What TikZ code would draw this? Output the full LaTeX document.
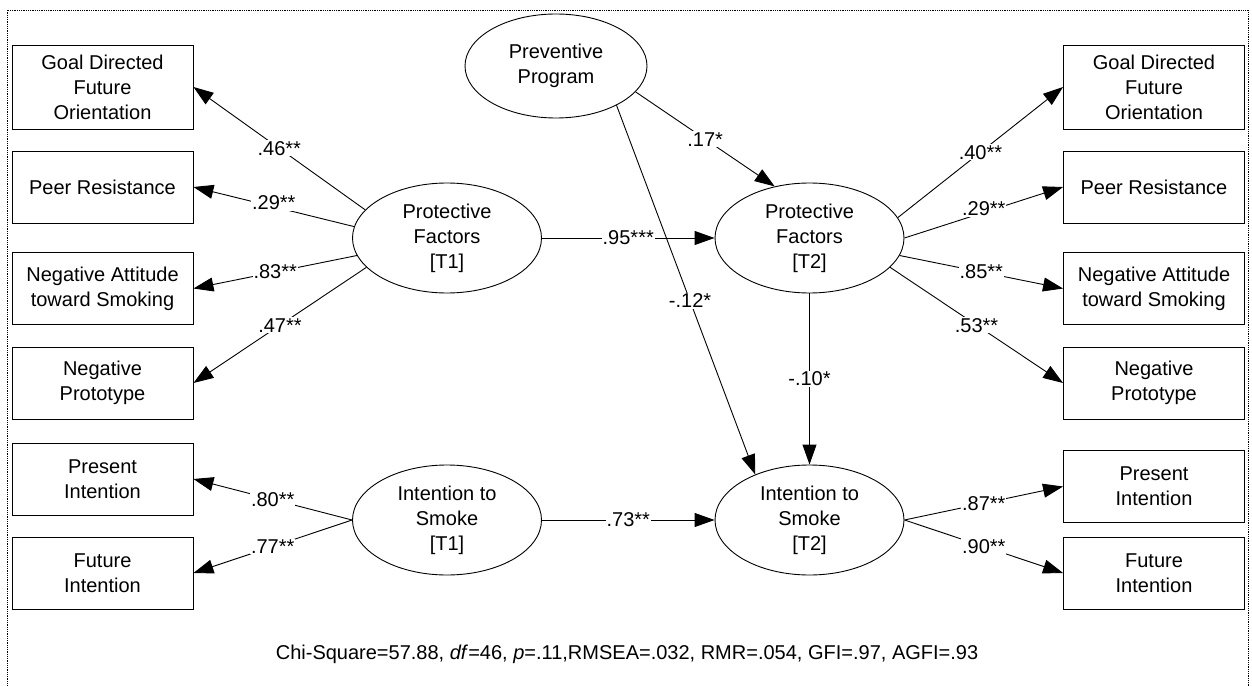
\documentclass[tikz,border=0pt]{standalone}
\usepackage{fontspec}
\setmainfont{Liberation Sans}
\usetikzlibrary{arrows.meta,shapes.geometric}
\begin{document}
\begin{tikzpicture}[x=1pt,y=-1pt,line width=0.9pt,
		font=\fontsize{20}{25}\selectfont,
		obs/.style={draw,rectangle,minimum width=181pt,minimum height=72pt,align=center,inner sep=2pt},
		lat/.style={draw,ellipse,minimum width=189pt,minimum height=110pt,align=center,inner sep=0pt},
		arr/.style={-{Triangle[length=20pt,width=14pt]}},
		coef/.style={fill=white,inner sep=1pt}]
				\useasboundingbox (0,0) rectangle (1252,687);
				% frame
				\draw[densely dotted,line width=0.8pt] (7,700) -- (7,10) -- (1248,10) -- (1248,700);
				% latent variables
				\node[lat,minimum width=182pt,minimum height=104pt] (pp) at (556,66) {Preventive\\Program};
				\node[lat] (pf1) at (447,238) {Protective\\Factors\\{[T1]}};
				\node[lat] (pf2) at (809.5,238) {Protective\\Factors\\{[T2]}};
				\node[lat] (is1) at (447,520) {Intention to\\Smoke\\{[T1]}};
				\node[lat] (is2) at (809.5,520) {Intention to\\Smoke\\{[T2]}};
				% indicators T1
				\node[obs,minimum height=84pt] (gl1) at (102.5,87) {Goal Directed\\Future\\Orientation};
				\node[obs] (pr1) at (102.5,187) {Peer Resistance};
				\node[obs] (na1) at (102.5,288.5) {Negative Attitude\\toward Smoking};
				\node[obs] (np1) at (102.5,383) {Negative\\Prototype};
				\node[obs] (pi1) at (102.5,479) {Present\\Intention};
				\node[obs] (fi1) at (102.5,573) {Future\\Intention};
				% indicators T2
				\node[obs,minimum height=84pt] (gl2) at (1154,87) {Goal Directed\\Future\\Orientation};
				\node[obs] (pr2) at (1154,187) {Peer Resistance};
				\node[obs] (na2) at (1154,288.5) {Negative Attitude\\toward Smoking};
				\node[obs] (np2) at (1154,383) {Negative\\Prototype};
				\node[obs] (pi2) at (1154,486.5) {Present\\Intention};
				\node[obs] (fi2) at (1154,573) {Future\\Intention};
				% loadings
				\draw[arr] (pf1.161) -- node[coef] {.46**} (gl1.east);
				\draw[arr] (pf1.173) -- node[coef,yshift=4pt] {.29**} (pr1.east);
				\draw[arr] (pf1.191) -- node[coef] {.83**} (na1.east);
				\draw[arr] (pf1.200) -- node[coef] {.47**} (np1.east);
				\draw[arr] (pf2.13) -- node[coef] {.40**} (gl2.west);
				\draw[arr] (pf2.0) -- node[coef,yshift=4pt] {.29**} (pr2.west);
				\draw[arr] (pf2.-11) -- node[coef] {.85**} (na2.west);
				\draw[arr] (pf2.-20) -- node[coef] {.53**} (np2.west);
				\draw[arr] (is1.west) -- node[coef] {.80**} (pi1.east);
				\draw[arr] (is1.west) -- node[coef] {.77**} (fi1.east);
				\draw[arr] (is2.east) -- node[coef] {.87**} (pi2.west);
				\draw[arr] (is2.east) -- node[coef] {.90**} (fi2.west);
				% paths
				\draw[arr] (pf1) -- node[coef] {.95***} (pf2);
				\draw[arr] (is1) -- node[coef] {.73**} (is2);
				\draw[arr] (pp.-18) -- node[coef] {.17*} (pf2.124);
				\draw[arr] (pp.-33) -- node[coef,pos=0.53] {-.12*} (is2.140);
				\draw[arr] (pf2) -- node[coef] {-.10*} (is2);
				% fit
				\node (fit) at (627,654) {Chi-Square=57.88, \textit{df}=46, \textit{p}=.11,RMSEA=.032, RMR=.054, GFI=.97, AGFI=.93};
			\end{tikzpicture}
\end{document}
